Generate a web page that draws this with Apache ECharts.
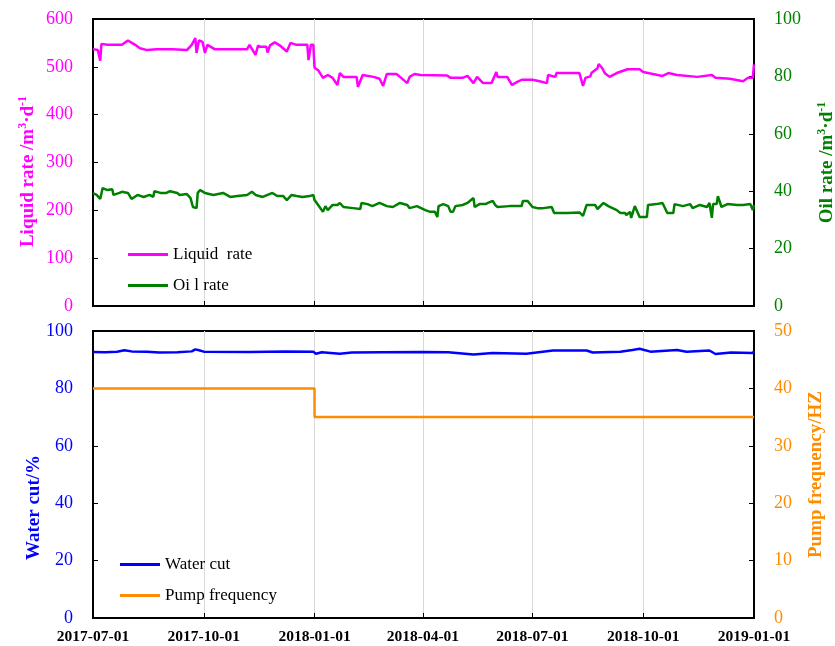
<!DOCTYPE html>
<html>
<head>
<meta charset="utf-8">
<script src="https://cdn.jsdelivr.net/npm/echarts@6/dist/echarts.min.js"></script>
<style>
  html, body { margin: 0; padding: 0; background: #fff; }
  #chart { width: 835px; height: 646px; }
</style>
</head>
<body>
<div id="chart"></div>
<script>
// days counted from 2017-07-01
const tickDays = [0, 92, 184, 274, 365, 457, 549];
const tickLabels = ["2017-07-01", "2017-10-01", "2018-01-01", "2018-04-01", "2018-07-01", "2018-10-01", "2019-01-01"];

const liquidDay = [0, 4, 6, 7, 12, 24, 29, 35, 39, 45, 53, 66, 78, 82, 85, 86, 88, 91, 93, 95,
  101, 128, 130, 135, 137, 139, 144, 145, 147, 151, 155, 161, 164, 169, 178, 179, 181, 183, 184, 187,
  191, 195, 199, 203, 205, 208, 219, 220, 224, 233, 238, 241, 244, 252, 255, 261, 263, 267, 272, 294,
  297, 307, 311, 316, 319, 324, 331, 335, 336, 344, 348, 352, 356, 365, 371, 377, 378, 384, 385, 404,
  407, 409, 413, 414, 419, 420, 423, 425, 429, 435, 444, 454, 457, 465, 473, 478, 485, 502, 514, 517,
  529, 540, 544, 548, 549];
const liquidRate = [537, 535, 513, 548, 546, 546, 555, 546, 539, 535, 537, 537, 535, 546, 560, 529, 555, 552, 529, 546,
  537, 537, 546, 525, 544, 542, 542, 530, 545, 551, 545, 532, 550, 546, 546, 514, 546, 546, 498, 493,
  477, 483, 477, 462, 487, 479, 479, 458, 483, 479, 475, 460, 485, 485, 479, 466, 479, 485, 483, 482,
  477, 477, 481, 466, 479, 466, 466, 489, 479, 479, 462, 468, 473, 473, 470, 466, 483, 479, 487, 487,
  460, 477, 480, 487, 497, 506, 497, 487, 479, 487, 495, 495, 489, 485, 481, 487, 483, 479, 483, 477,
  475, 470, 477, 477, 505];

const oilDay = [0, 3, 6, 8, 12, 16, 17, 22, 24, 29, 32, 37, 42, 47, 50, 51, 56, 61, 64, 70,
  72, 78, 81, 83, 86, 87, 89, 93, 100, 108, 114, 120, 128, 132, 135, 141, 149, 153, 158, 161,
  165, 169, 174, 180, 183, 184, 187, 191, 193, 195, 199, 203, 205, 208, 216, 222, 223, 228, 232, 238,
  244, 249, 255, 261, 263, 269, 276, 280, 284, 286, 287, 291, 295, 297, 299, 301, 307, 311, 316, 317,
  321, 326, 328, 332, 334, 336, 346, 356, 357, 361, 365, 369, 374, 381, 383, 394, 404, 407, 410, 417,
  419, 424, 428, 435, 438, 442, 443, 446, 447, 450, 454, 460, 461, 468, 473, 477, 482, 483, 490, 496,
  498, 504, 510, 512, 514, 515, 518, 519, 522, 527, 535, 540, 546, 548, 549];
const oilRate = [39.3, 38.7, 37.3, 41.1, 40.4, 40.7, 38.7, 39.4, 39.8, 39.4, 37.3, 38.7, 38.0, 38.7, 38.0, 40.0, 39.4, 39.4, 40.0, 39.4,
  38.7, 39.0, 37.6, 34.5, 34.1, 39.4, 40.4, 39.4, 38.7, 39.4, 38.0, 38.3, 38.7, 39.8, 38.7, 38.0, 39.4, 38.3, 38.3, 36.9,
  38.7, 38.3, 38.0, 38.3, 38.7, 36.9, 35.2, 32.8, 34.8, 33.4, 35.2, 35.2, 35.9, 34.5, 34.1, 33.8, 35.9, 35.5, 34.8, 35.9,
  34.8, 34.5, 35.9, 35.2, 34.1, 34.8, 33.4, 32.8, 32.8, 31.0, 34.8, 35.5, 34.8, 32.8, 32.8, 34.8, 35.2, 35.9, 37.6, 34.5,
  35.5, 35.5, 35.9, 36.6, 35.2, 34.5, 34.8, 34.8, 36.6, 36.6, 34.5, 34.1, 34.1, 34.5, 32.4, 32.4, 32.6, 31.4, 35.2, 35.2,
  33.8, 35.9, 34.8, 33.4, 32.4, 32.4, 31.7, 32.8, 30.7, 34.8, 31.0, 31.0, 35.2, 35.5, 35.9, 32.4, 32.4, 35.5, 34.8, 35.5,
  34.1, 35.2, 34.5, 35.9, 30.7, 35.5, 35.5, 38.3, 34.5, 35.5, 35.2, 35.2, 35.5, 33.4, 35.2];

const waterDay = [0, 10, 20, 26, 32, 45, 55, 70, 82, 85, 88, 92, 130, 160, 183, 185, 190, 205, 215, 240,
  274, 295, 316, 332, 360, 382, 410, 415, 438, 448, 454, 463, 485, 493, 512, 517, 530, 548, 549];
const waterCut = [92.7, 92.6, 92.8, 93.3, 92.9, 92.8, 92.5, 92.6, 92.9, 93.6, 93.3, 92.8, 92.7, 92.9, 92.8, 92.1, 92.6, 92.1, 92.5, 92.6,
  92.7, 92.6, 91.8, 92.3, 92.1, 93.2, 93.2, 92.5, 92.8, 93.4, 93.8, 92.8, 93.4, 92.8, 93.2, 92.0, 92.5, 92.3, 93.0];

const pumpDay = [0, 184, 184, 549];
const pumpFreq = [40, 40, 35, 35];

function pairs(xs, ys) {
  const n = Math.min(xs.length, ys.length);
  const out = [];
  for (let i = 0; i < n; i++) out.push([xs[i], ys[i]]);
  return out;
}

const FONT = "Liberation Serif";
const C_LIQ = "#ff00ff", C_OIL = "#008000", C_WAT = "#0000ff", C_PUMP = "#ff8c00";

// shift: pushes the rotated name down along the axis (px)
function yAxisOf(grid, pos, max, interval, color, name, gap, shift) {
  return {
    type: "value", gridIndex: grid, position: pos, min: 0, max: max, interval: interval,
    name: name, nameLocation: "middle", nameGap: gap, nameRotate: 90, nameMoveOverlap: false,
    nameTextStyle: {
      padding: [0, 2 * (shift || 0), 0, 0],
      rich: {
        a: { fontFamily: FONT, fontSize: 19, fontWeight: "bold", color: color },
        s: { fontFamily: FONT, fontSize: 12, fontWeight: "bold", color: color, verticalAlign: "top", lineHeight: 22 },
      },
    },
    axisLine: { show: true, lineStyle: { color: "#000", width: 2 } },
    axisTick: { show: true, inside: true, length: 5, lineStyle: { color: "#000", width: 1 } },
    axisLabel: { color: color, fontFamily: FONT, fontSize: 18, margin: 20 },
    splitLine: { show: false },
  };
}

function xAxisOf(grid, showLabel) {
  return {
    type: "value", gridIndex: grid, min: 0, max: 549,
    axisLine: { show: true, onZero: false, lineStyle: { color: "#000", width: 2 } },
    axisTick: { show: true, inside: true, length: 5, customValues: tickDays, lineStyle: { color: "#000" } },
    axisLabel: {
      show: showLabel, customValues: tickDays, color: "#000", fontFamily: FONT, fontSize: 15.5, fontWeight: "bold", margin: 11,
      formatter: (v) => tickLabels[tickDays.indexOf(v)] || "",
    },
    splitLine: { show: true, lineStyle: { color: "#d9d9d9", width: 1 } },
  };
}

const chart = echarts.init(document.getElementById("chart"));
const option = {
  backgroundColor: "#fff",
  animation: false,
  grid: [
    { left: 93, right: 81, top: 19, height: 287, show: true, borderColor: "#000", borderWidth: 2, outerBoundsMode: "none" },
    { left: 93, right: 81, top: 331, height: 287, show: true, borderColor: "#000", borderWidth: 2, outerBoundsMode: "none" },
  ],
  legend: [
    {
      data: ["Liquid  rate", "Oi l rate"], orient: "vertical", left: 128, top: 246, itemGap: 14, padding: 0,
      itemWidth: 40, itemHeight: 3, icon: "rect",
      textStyle: { fontFamily: FONT, fontSize: 17, color: "#000" },
    },
    {
      data: ["Water cut", "Pump frequency"], orient: "vertical", left: 120, top: 556, itemGap: 14, padding: 0,
      itemWidth: 40, itemHeight: 3, icon: "rect",
      textStyle: { fontFamily: FONT, fontSize: 17, color: "#000" },
    },
  ],
  xAxis: [xAxisOf(0, false), xAxisOf(1, true)],
  yAxis: [
    yAxisOf(0, "left", 600, 100, C_LIQ, "{a|Liquid rate /m}{s|3}{a|·d}{s|-1}", 54, 9),
    yAxisOf(0, "right", 100, 20, C_OIL, "{a|Oil rate /m}{s|3}{a|·d}{s|-1}", 62, 0),
    yAxisOf(1, "left", 100, 20, C_WAT, "{a|Water cut/%}", 49, 33),
    yAxisOf(1, "right", 50, 10, C_PUMP, "{a|Pump frequency/HZ}", 53, 0),
  ],
  series: [
    { name: "Liquid  rate", type: "line", xAxisIndex: 0, yAxisIndex: 0, data: pairs(liquidDay, liquidRate),
      showSymbol: false, color: C_LIQ, lineStyle: { width: 2.5 } },
    { name: "Oi l rate", type: "line", xAxisIndex: 0, yAxisIndex: 1, data: pairs(oilDay, oilRate),
      showSymbol: false, color: C_OIL, lineStyle: { width: 2.5 } },
    { name: "Water cut", type: "line", xAxisIndex: 1, yAxisIndex: 2, data: pairs(waterDay, waterCut),
      showSymbol: false, color: C_WAT, lineStyle: { width: 2.5 } },
    { name: "Pump frequency", type: "line", xAxisIndex: 1, yAxisIndex: 3, data: pairs(pumpDay, pumpFreq),
      showSymbol: false, color: C_PUMP, lineStyle: { width: 2.5 } },
  ],
};
chart.setOption(option);
</script>
</body>
</html>
